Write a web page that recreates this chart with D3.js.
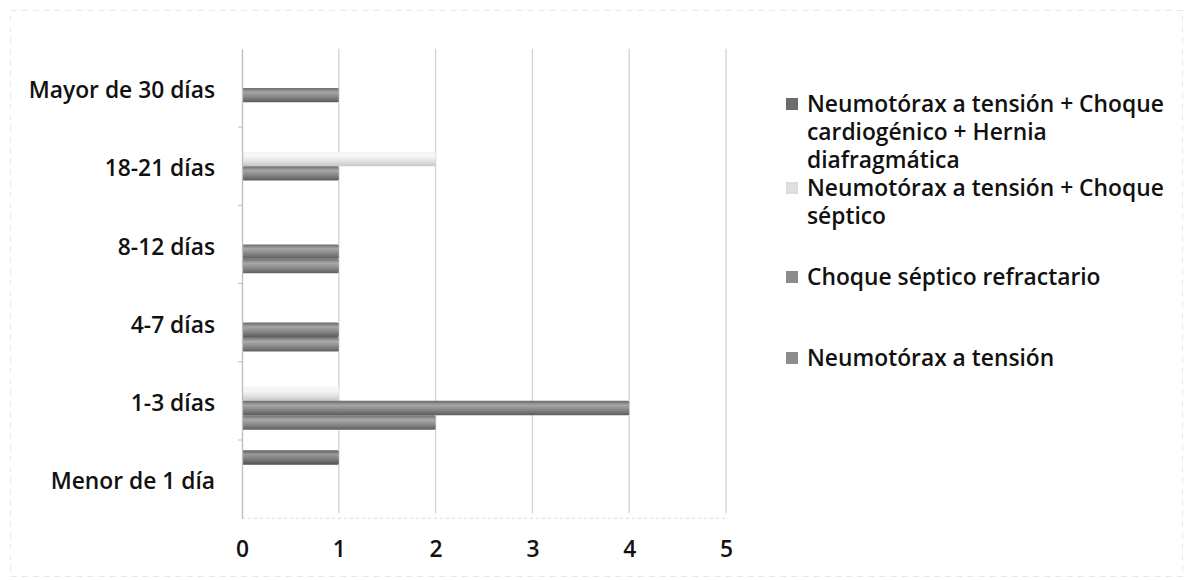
<!DOCTYPE html>
<html>
<head>
<meta charset="utf-8">
<script src="https://cdn.jsdelivr.net/npm/d3@7"></script>
<style>
  html, body { margin: 0; padding: 0; background: #fff; }
  #chart-container { width: 1188px; height: 580px; }
  text { font-family: "Open Sans", "Lato", sans-serif; fill: #111; font-weight: 600; }
</style>
</head>
<body>
<div id="chart-container"></div>
<script>
// categories, bottom to top as in the source sheet
const categories = ["Menor de 1 día", "1-3 días", "4-7 días", "8-12 días", "18-21 días", "Mayor de 30 días"];

const seriesNames = [
    "Neumotórax a tensión + Choque cardiogénico + Hernia diafragmática",
    "Neumotórax a tensión + Choque séptico",
    "Choque séptico refractario",
    "Neumotórax a tensión"
];

// values per category (same order as categories)
const herniaValues = [1, 0, 0, 0, 0, 0];
const septicoValues = [0, 1, 0, 0, 2, 0];
const refractarioValues = [0, 4, 1, 1, 1, 1];
const neumotoraxValues = [0, 2, 1, 1, 0, 0];

const xTicks = [0, 1, 2, 3, 4, 5];

// legend lines as wrapped in the picture
const legendLines = [
    ["Neumotórax a tensión + Choque", "cardiogénico + Hernia", "diafragmática"],
    ["Neumotórax a tensión + Choque", "séptico"],
    ["Choque séptico refractario"],
    ["Neumotórax a tensión"]
];

const seriesValues = [herniaValues, septicoValues, refractarioValues, neumotoraxValues];

const plot = {left: 242, right: 726, top: 48.75, bottom: 518.25};
const fontSize = 22.8;

const svg = d3.select("#chart-container").append("svg")
    .attr("width", 1188)
    .attr("height", 580)
    .attr("viewBox", "0 0 1188 580");

// bar shading, grey scan look
const defs = svg.append("defs");
const gradients = [
    {id: "g0", stops: ["#5e5e5e", "#9a9a9a", "#7a7a7a", "#4f4f4f"]},
    {id: "g1", stops: ["#f4f4f4", "#f6f6f6", "#e2e2e2", "#c6c6c6"]},
    {id: "g2", stops: ["#6a6a6a", "#a6a6a6", "#848484", "#5a5a5a"]},
    {id: "g3", stops: ["#6e6e6e", "#a9a9a9", "#888888", "#5e5e5e"]}
];
gradients.forEach(g => {
    const lg = defs.append("linearGradient")
        .attr("id", g.id)
        .attr("x1", 0).attr("y1", 0).attr("x2", 0).attr("y2", 1);
    [0, 0.3, 0.65, 1].forEach((o, i) => {
        lg.append("stop").attr("offset", o).attr("stop-color", g.stops[i]);
    });
});

// faint outer frame of the scanned chart
svg.append("rect")
    .attr("x", 10.5).attr("y", 10.5)
    .attr("width", 1172).attr("height", 566)
    .attr("fill", "none")
    .attr("stroke", "#e8e8e8")
    .attr("stroke-dasharray", "6,5");

const x = d3.scaleLinear().domain([0, 5]).range([plot.left, plot.right]);

const y = d3.scaleBand()
    .domain(categories.slice().reverse())
    .range([plot.top, plot.bottom])
    .paddingInner(0.26)
    .paddingOuter(0.13);

const ySub = d3.scaleBand()
    .domain(d3.range(seriesNames.length))
    .range([0, y.bandwidth()]);

// gridlines
svg.append("g")
    .selectAll("line")
    .data(xTicks.slice(1))
    .join("line")
    .attr("x1", d => x(d)).attr("x2", d => x(d))
    .attr("y1", plot.top).attr("y2", plot.bottom - 5)
    .attr("stroke", "#d2d2d2")
    .attr("stroke-width", 1.3);

// bottom baseline
svg.append("line")
    .attr("x1", plot.left).attr("x2", plot.right)
    .attr("y1", plot.bottom).attr("y2", plot.bottom)
    .attr("stroke", "#d8d8d8")
    .attr("stroke-dasharray", "3,3");

// bars
const rows = categories.map((c, ci) => ({
    category: c,
    values: seriesValues.map((vals, si) => ({s: si, v: vals[ci]}))
}));

const groups = svg.append("g")
    .selectAll("g")
    .data(rows)
    .join("g")
    .attr("transform", d => `translate(0,${y(d.category)})`);

groups.selectAll("rect")
    .data(d => d.values.filter(e => e.v > 0))
    .join("rect")
    .attr("x", x(0))
    .attr("y", d => ySub(d.s))
    .attr("width", d => x(d.v) - x(0))
    .attr("height", ySub.bandwidth())
    .attr("rx", 1.5)
    .attr("fill", d => `url(#g${d.s})`);

// category axis
const yAxis = svg.append("g")
    .attr("transform", `translate(${plot.left},0)`)
    .call(d3.axisLeft(y).tickSize(0).tickPadding(27));

yAxis.select(".domain").attr("stroke", "#bdbdbd").attr("stroke-width", 1.3);
yAxis.selectAll(".tick text")
    .attr("font-size", fontSize)
    .attr("dy", "0.45em");

// tick marks between categories
svg.append("g")
    .selectAll("line")
    .data(d3.range(1, categories.length))
    .join("line")
    .attr("x1", plot.left - 4).attr("x2", plot.left)
    .attr("y1", d => plot.top + d * y.step())
    .attr("y2", d => plot.top + d * y.step())
    .attr("stroke", "#bdbdbd");

// value axis
const xAxis = svg.append("g")
    .attr("transform", `translate(0,${plot.bottom})`)
    .call(d3.axisBottom(x).tickValues(xTicks).tickSize(0).tickPadding(23).tickFormat(d3.format("d")));

xAxis.select(".domain").remove();
xAxis.selectAll(".tick text").attr("font-size", fontSize);

// legend
const legendX = 786;
const legendY = [104, 188, 277, 358];
const legendColors = ["#6c6c6c", "#dedede", "#8c8c8c", "#8c8c8c"];

const legend = svg.append("g")
    .selectAll("g")
    .data(seriesNames)
    .join("g")
    .attr("transform", (d, i) => `translate(${legendX},${legendY[i]})`);

legend.append("rect")
    .attr("x", 0).attr("y", -6)
    .attr("width", 12).attr("height", 12)
    .attr("fill", (d, i) => legendColors[i]);

legend.append("text")
    .attr("x", 21)
    .attr("font-size", fontSize)
    .selectAll("tspan")
    .data((d, i) => legendLines[i])
    .join("tspan")
    .attr("x", 21)
    .attr("y", (d, j) => j * 28)
    .attr("dy", "0.36em")
    .text(d => d);
</script>
</body>
</html>
